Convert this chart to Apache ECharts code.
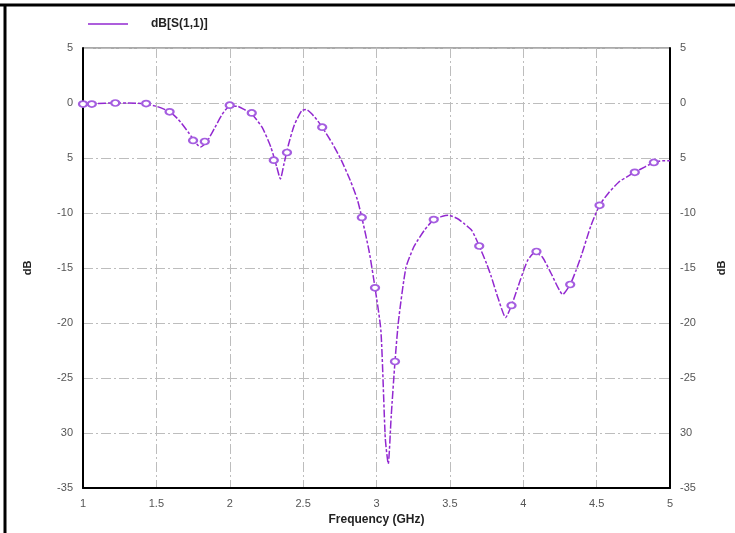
<!DOCTYPE html>
<html>
<head>
  <meta charset="utf-8">
  <title>dB[S(1,1)]</title>
  <script src="https://cdn.jsdelivr.net/npm/echarts@6/dist/echarts.min.js"></script>
  <style>
    html, body { margin: 0; padding: 0; background: #fff; }
  </style>
</head>
<body>
  <div id="chart" style="width: 735px; height: 533px;"></div>

  <script>
    // curve: frequency (GHz) and dB
    const freq = [1.00, 1.10, 1.20, 1.30, 1.40, 1.50, 1.59, 1.65, 1.72, 1.78, 1.80, 1.84, 1.90, 1.95, 2.00,
      2.05, 2.10, 2.15, 2.22, 2.28, 2.32, 2.345, 2.37, 2.40, 2.44, 2.49, 2.52, 2.58, 2.63, 2.70,
      2.76, 2.82, 2.87, 2.90, 2.95, 2.99, 3.03, 3.06, 3.08, 3.10, 3.126, 3.15, 3.20, 3.25, 3.28,
      3.33, 3.39, 3.45, 3.49, 3.55, 3.60, 3.65, 3.70, 3.75, 3.78, 3.83, 3.88, 3.92, 3.98, 4.03,
      4.08, 4.13, 4.19, 4.27, 4.32, 4.36, 4.40, 4.46, 4.52, 4.58, 4.65, 4.72, 4.76, 4.83, 4.89,
      4.95, 5.00];
    const s11 = [-0.1, -0.05, 0.0, 0.0, -0.05, -0.3, -0.8, -1.5, -2.7, -3.8, -4.0, -3.6, -2.2, -1.0, -0.3,
      -0.3, -0.6, -1.0, -2.2, -4.0, -5.8, -6.9, -5.5, -3.8, -2.0, -0.7, -0.6, -1.3, -2.2, -3.7,
      -5.2, -7.0, -8.8, -10.4, -13.5, -16.8, -20.7, -30.5, -32.8, -28.5, -23.5, -19.8, -15.0, -13.2, -12.5,
      -11.5, -10.6, -10.3, -10.2, -10.5, -11.0, -11.6, -13.0, -14.6, -15.7, -17.8, -19.5, -18.4, -16.1, -14.3,
      -13.6, -14.0, -15.5, -17.4, -16.5, -15.2, -13.7, -11.2, -9.3, -8.2, -7.2, -6.6, -6.3, -5.8, -5.4,
      -5.25, -5.25];

    // marker positions on the trace
    const markerFreq = [1.00, 1.06, 1.22, 1.43, 1.59, 1.75, 1.83, 2.00, 2.15, 2.30, 2.39, 2.63, 2.90,
      2.99, 3.126, 3.39, 3.70, 3.92, 4.09, 4.32, 4.52, 4.76, 4.89];
    const markerDb = [-0.1, -0.1, 0.0, -0.05, -0.8, -3.4, -3.5, -0.2, -0.9, -5.2, -4.5, -2.2, -10.4,
      -16.8, -23.5, -10.6, -13.0, -18.4, -13.5, -16.5, -9.3, -6.3, -5.4];

    // tick labels as printed (ticks from -35 to 5)
    const yTickValues = [-35, -30, -25, -20, -15, -10, -5, 0, 5];
    const yTickLabels = ['-35', '30', '-25', '-20', '-15', '-10', '5', '0', '5'];
    const xTickLabels = ['1', '1.5', '2', '2.5', '3', '3.5', '4', '4.5', '5'];

    const seriesName = 'dB[S(1,1)]';
    const purple = '#9228d0';
    const font = 'Liberation Sans, Arial, sans-serif';

    function yLabel(v) {
      const i = yTickValues.indexOf(Math.round(v));
      return i >= 0 ? yTickLabels[i] : '';
    }
    function xLabel(v) {
      const i = Math.round((v - 1) / 0.5);
      return xTickLabels[i] !== undefined ? xTickLabels[i] : '';
    }

    const gridLine = { show: true, lineStyle: { color: '#bdbdbd', width: 1, type: [10, 3, 2, 3] } };
    const labelStyle = { color: '#555', fontSize: 11, fontFamily: font };

    function yAxis(pos, gap) {
      return {
        type: 'value', position: pos, min: -35, max: 5, interval: 5,
        name: 'dB', nameLocation: 'middle', nameGap: gap, nameRotate: 90,
        nameTextStyle: { color: '#222', fontSize: 11, fontWeight: 'bold', fontFamily: font },
        axisLine: { show: true, onZero: false, lineStyle: { color: '#000', width: 2 } },
        axisTick: { show: false },
        axisLabel: Object.assign({ formatter: yLabel, margin: 10 }, labelStyle),
        splitLine: pos === 'left' ? gridLine : { show: false }
      };
    }

    const chart = echarts.init(document.getElementById('chart'));

    chart.setOption({
      animation: false,
      backgroundColor: '#fff',
      grid: { left: 83, right: 63, top: 48, bottom: 45, show: true, borderColor: '#555', borderWidth: 1 },
      legend: {
        data: [{ name: seriesName, icon: 'rect' }],
        left: 83, top: 13,
        itemWidth: 40, itemHeight: 1.5,
        itemStyle: { color: purple },
        textStyle: { color: '#222', fontSize: 12, fontWeight: 'bold', fontFamily: font, padding: [0, 0, 0, 18] }
      },
      xAxis: {
        type: 'value', min: 1, max: 5, interval: 0.5,
        name: 'Frequency (GHz)', nameLocation: 'middle', nameGap: 24,
        nameTextStyle: { color: '#222', fontSize: 12, fontWeight: 'bold', fontFamily: font },
        axisLine: { show: true, onZero: false, lineStyle: { color: '#000', width: 2 } },
        axisTick: { show: false },
        axisLabel: Object.assign({ formatter: xLabel, margin: 10 }, labelStyle),
        splitLine: gridLine
      },
      yAxis: [yAxis('left', 50), yAxis('right', 46)],
      series: [
        {
          name: seriesName,
          type: 'line',
          data: freq.map((f, i) => [f, s11[i]]),
          symbol: 'none',
          smooth: 0.2,
          color: purple,
          lineStyle: { color: purple, width: 1.5, type: [8, 2, 3, 2] },
          z: 3
        },
        {
          name: 'markers',
          type: 'line',
          data: markerFreq.map((f, i) => [f, markerDb[i]]),
          symbol: 'emptyCircle',
          symbolSize: [8, 6],
          showSymbol: true,
          showAllSymbol: true,
          lineStyle: { width: 0, opacity: 0 },
          itemStyle: { color: '#a55ee0', borderColor: '#a55ee0', borderWidth: 0.8 },
          z: 4
        }
      ],
      graphic: [
        { type: 'line', shape: { x1: 0, y1: 5, x2: 735, y2: 5 }, style: { stroke: '#000', lineWidth: 3 } },
        { type: 'line', shape: { x1: 5, y1: 5, x2: 5, y2: 533 }, style: { stroke: '#000', lineWidth: 3 } }
      ]
    });
  </script>
</body>
</html>
